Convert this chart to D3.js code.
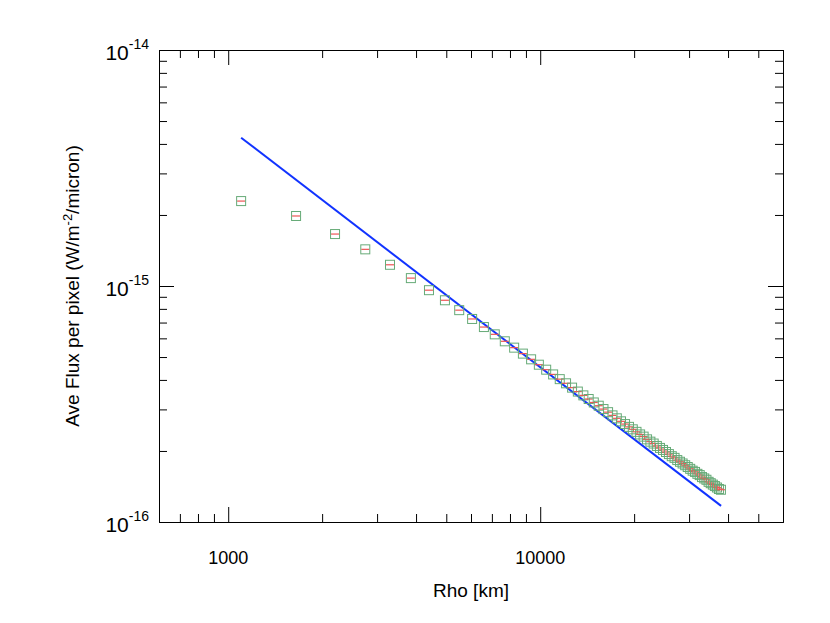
<!DOCTYPE html>
<html><head><meta charset="utf-8">
<script src="https://cdn.jsdelivr.net/npm/d3@7"></script>
<style>body{margin:0;background:#fff}text{font-family:"Liberation Sans",Arial,sans-serif}</style>
</head><body><svg id="c" width="830" height="623"></svg>
<script>
// rho [km]
var rho = [1100,1650,2200,2750,3300,3850,4400,4950,5500,6050,6600,7150,7700,8250,8800,9350,9900,10450,11000,11550,
  12100,12650,13200,13750,14300,14850,15400,15950,16500,17050,17600,18150,18700,19250,19800,20350,20900,21450,22000,22550,
  23100,23650,24200,24750,25300,25850,26400,26950,27500,28050,28600,29150,29700,30250,30800,31350,31900,32450,33000,33550,
  34100,34650,35200,35750,36300,36850,37400,37950];
// flux in units of 1e-16 W/m^2/micron
var flux = [22.9,19.8,16.6,14.3,12.3,10.8,9.6,8.7,7.9,7.25,6.7,6.24,5.83,5.48,5.17,4.89,4.64,4.42,4.22,4.03,
  3.87,3.71,3.57,3.44,3.32,3.21,3.11,3.01,2.92,2.83,2.75,2.67,2.60,2.53,2.47,2.41,2.35,2.30,2.24,2.19,
  2.15,2.10,2.06,2.02,1.98,1.94,1.90,1.87,1.83,1.80,1.77,1.74,1.71,1.68,1.65,1.63,1.60,1.58,1.55,1.53,
  1.51,1.48,1.46,1.44,1.42,1.40,1.38,1.37];
var fitRho = [1100, 38000];
var fitFlux = [4.25e-15, 1.17e-16];
var xTickVals = [1000, 10000];
var yTickVals = [1e-16, 1e-15, 1e-14];

var svg = d3.select("#c"),
    margin = {top: 50, right: 47, bottom: 101, left: 159},
    width = 830 - margin.left - margin.right,
    height = 623 - margin.top - margin.bottom,
    g = svg.append("g").attr("transform", "translate(" + margin.left + "," + margin.top + ")");

var x = d3.scaleLog().domain([600, 60000]).range([0, width]);
var y = d3.scaleLog().domain([1e-16, 1e-14]).range([height, 0]);

var xMinor = [], yMinor = [];
[100, 1000, 10000].forEach(function(d) { for (var k = 2; k <= 9; k++) if (d*k >= 600 && d*k <= 60000) xMinor.push(d*k); });
[1e-16, 1e-15].forEach(function(d) { for (var k = 2; k <= 9; k++) yMinor.push(d*k); });

function axis(gen, scale, vals, len, tr) {
  g.append("g").attr("transform", tr).call(gen(scale).tickValues(vals).tickSize(len).tickSizeOuter(0).tickFormat(""))
    .call(function(s) { s.select(".domain").attr("stroke", "#000"); s.selectAll("line").attr("stroke", "#000"); });
}
axis(d3.axisTop, x, xTickVals, 15, "translate(0," + height + ")");
axis(d3.axisTop, x, xMinor, 8, "translate(0," + height + ")");
axis(d3.axisBottom, x, xTickVals, 15, "translate(0,0)");
axis(d3.axisBottom, x, xMinor, 8, "translate(0,0)");
axis(d3.axisRight, y, yTickVals, 15, "translate(0,0)");
axis(d3.axisRight, y, yMinor, 8, "translate(0,0)");
axis(d3.axisLeft, y, yTickVals, 15, "translate(" + width + ",0)");
axis(d3.axisLeft, y, yMinor, 8, "translate(" + width + ",0)");

g.selectAll(".xl").data(xTickVals).enter().append("text")
  .attr("x", function(d) { return x(d); }).attr("y", height + 42)
  .attr("text-anchor", "middle").attr("font-size", 18).text(function(d) { return d; });

var yl = g.selectAll(".yl").data(yTickVals).enter().append("text")
  .attr("x", -10).attr("y", function(d) { return y(d) + 10; })
  .attr("text-anchor", "end").attr("font-size", 21);
yl.append("tspan").text("10");
yl.append("tspan").attr("dy", -11).attr("font-size", 14).text(function(d) { return Math.round(Math.log10(d)); });

g.append("text").attr("x", width / 2).attr("y", height + 75).attr("text-anchor", "middle")
  .attr("font-size", 19).text("Rho [km]");
var yt = g.append("text").attr("transform", "translate(-80," + (height / 2) + ") rotate(-90)")
  .attr("text-anchor", "middle").attr("font-size", 19);
yt.append("tspan").text("Ave Flux per pixel (W/m");
yt.append("tspan").attr("dy", -7).attr("font-size", 13).text("-2");
yt.append("tspan").attr("dy", 7).text("/micron)");

g.append("path").datum(d3.zip(fitRho, fitFlux))
  .attr("d", d3.line().x(function(d) { return x(d[0]); }).y(function(d) { return y(d[1]); }))
  .attr("stroke", "#1133ff").attr("stroke-width", 2).attr("fill", "none");

var pts = g.selectAll(".p").data(d3.zip(rho, flux)).enter().append("g")
  .attr("transform", function(d) { return "translate(" + x(d[0]) + "," + y(d[1] * 1e-16) + ")"; });
pts.append("line").attr("x1", -4).attr("x2", 4).attr("stroke", "#ee5555").attr("stroke-width", 1.2);
pts.append("rect").attr("x", -4.5).attr("y", -4.5).attr("width", 9).attr("height", 9)
  .attr("fill", "none").attr("stroke", "#66aa77").attr("stroke-width", 1);
</script></body></html>
